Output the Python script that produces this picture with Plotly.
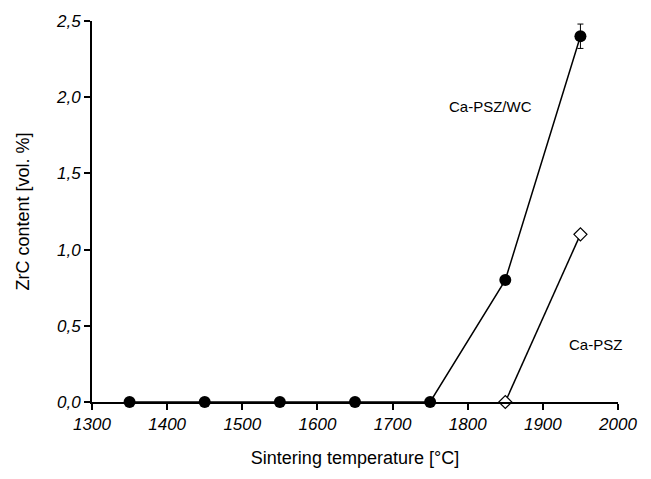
import plotly.graph_objects as go

# Data
temp_wc = [1350, 1450, 1550, 1650, 1750, 1850, 1950]
zrc_wc = [0.0, 0.0, 0.0, 0.0, 0.0, 0.8, 2.40]
err_wc = [0, 0, 0, 0, 0, 0, 0.08]
temp_psz = [1850, 1950]
zrc_psz = [0.0, 1.1]

y_ticks = [0, 0.5, 1.0, 1.5, 2.0, 2.5]
y_ticktext = ["0,0", "0,5", "1,0", "1,5", "2,0", "2,5"]
x_ticks = [1300, 1400, 1500, 1600, 1700, 1800, 1900, 2000]

font_family = "Liberation Sans, Arial, sans-serif"

fig = go.Figure()
fig.add_trace(go.Scatter(
    x=temp_psz, y=zrc_psz, mode="lines+markers",
    line=dict(color="black", width=1.5),
    marker=dict(symbol="diamond", size=10, color="white",
                line=dict(color="black", width=1.2)),
    cliponaxis=False, showlegend=False))
fig.add_trace(go.Scatter(
    x=temp_wc, y=zrc_wc, mode="lines+markers",
    line=dict(color="black", width=1.5),
    marker=dict(symbol="circle", size=12, color="black"),
    error_y=dict(type="data", array=err_wc, visible=True,
                 color="black", thickness=1, width=3),
    cliponaxis=False, showlegend=False))

fig.add_annotation(x=1830, y=1.94, text="Ca-PSZ/WC", showarrow=False,
                   font=dict(family=font_family, size=15, color="black"))
fig.add_annotation(x=1970, y=0.38, text="Ca-PSZ", showarrow=False,
                   font=dict(family=font_family, size=15, color="black"))

fig.update_layout(
    width=651, height=479,
    margin=dict(l=92, r=33, t=15, b=77),
    paper_bgcolor="white", plot_bgcolor="white",
    font=dict(family=font_family, color="black"),
    xaxis=dict(
        range=[1300, 2000], tickvals=x_ticks,
        ticks="outside", ticklen=6, tickwidth=1.5, tickcolor="black",
        showline=True, linecolor="black", linewidth=1.8,
        showgrid=False, zeroline=False,
        tickfont=dict(family=font_family, size=17, style="italic", color="black"),
        title=dict(text="Sintering temperature [°C]",
                   font=dict(family=font_family, size=18, color="black"),
                   standoff=18),
    ),
    yaxis=dict(
        range=[0, 2.5], tickvals=y_ticks, ticktext=y_ticktext,
        ticks="outside", ticklen=6, tickwidth=1.5, tickcolor="black",
        showline=True, linecolor="black", linewidth=1.8,
        showgrid=False, zeroline=False,
        tickfont=dict(family=font_family, size=17, style="italic", color="black"),
        title=dict(text="ZrC content [vol. %]",
                   font=dict(family=font_family, size=18, color="black"),
                   standoff=22),
    ),
)

fig.write_html("out.html")
